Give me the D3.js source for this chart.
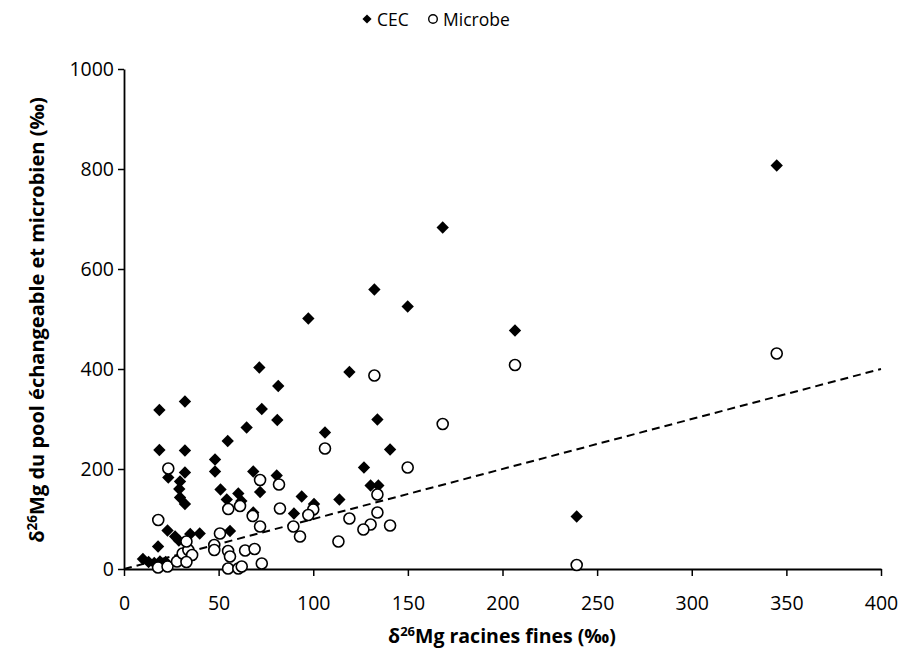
<!DOCTYPE html>
<html><head><meta charset="utf-8">
<script src="https://cdn.jsdelivr.net/npm/d3@7"></script>
<style>body{margin:0;background:#fff}svg{display:block;font-family:"Open Sans",sans-serif}</style>
</head><body>
<svg id="c" width="904" height="659"></svg>
<script>
const cecX = [10,13,16,19,22,18,23,27,29,35,40,
  18.7,32.2,18.7,32.2,23.4,32.2,29.6,29.2,29.6,32.2,
  48.1,48.1,54.8,64.8,71.5,81.5,72.8,81,68.3,80.7,
  51,54.3,60.4,62,71.9,68.3,56,
  97.4,119.1,132.3,149.9,168.4,133.9,106.2,140.6,126.8,130.3,134.4,93.9,113.8,100.4,89.8,
  206.6,239.2,344.9];
const cecY = [20,14,12,15,14,45,77,65,57,70,71,
  318,335,238,237,183,193,175,160,143,130,
  219,195,256,283,403,366,320,298,195,187,
  159,139,151,136,154,113,76,
  501,394,559,525,683,299,273,239,203,167,167,145,139,130,111,
  477,105,807];
const micX = [18.1,23.4,18,23,28,31,34,36,33,33,
  50.7,47.7,47.7,55,56,64,69,55,60.4,62.2,
  68,71.9,82.4,89.5,93,72.8,55.1,61.3,71.9,81.9,
  132.3,168.4,106.2,149.9,133.9,100,97.4,119.1,133.9,130.3,126.5,140.6,113.3,
  206.6,239.2,344.9];
const micY = [98,201,3,5,15,31,38,28,14,55,
  71,48,38,36,25,37,40,1,1,5,
  106,85,121,85,65,11,120,126,178,169,
  387,290,241,203,149,119,108,101,113,89,79,87,55,
  408,8,431];
const lineX = [0,400];
const lineY = [0,400];
const xTicks = [0,50,100,150,200,250,300,350,400];
const yTicks = [0,200,400,600,800,1000];

const svg = d3.select("#c");
const x = d3.scaleLinear().domain([0,400]).range([124,881]);
const y = d3.scaleLinear().domain([0,1000]).range([569,69]);

const gx = svg.append("g").attr("transform","translate(0,569)")
  .call(d3.axisBottom(x).tickValues(xTicks).tickFormat(d3.format("d")).tickSize(7).tickPadding(20).tickSizeOuter(0));
const gy = svg.append("g").attr("transform","translate(124,0)")
  .call(d3.axisLeft(y).tickValues(yTicks).tickFormat(d3.format("d")).tickSize(6).tickPadding(4).tickSizeOuter(0));
[gx,gy].forEach(g=>{
  g.select(".domain").attr("stroke","#000").attr("stroke-width",1.8);
  g.selectAll(".tick line").attr("stroke","#000").attr("stroke-width",1.5);
  g.selectAll(".tick text").attr("fill","#000").attr("font-family","Open Sans");
});
gx.selectAll(".tick text").attr("font-size",19.5);
gy.selectAll(".tick text").attr("font-size",19.5);

svg.append("path")
  .attr("d", d3.line().x((d,i)=>x(lineX[i])).y((d,i)=>y(lineY[i]))(lineX))
  .attr("fill","none").attr("stroke","#000").attr("stroke-width",2).attr("stroke-dasharray","8,5");

const diamond = d3.symbol().type(d3.symbolSquare).size(76);
svg.append("g").selectAll("path").data(cecX).join("path")
  .attr("d", diamond)
  .attr("transform",(d,i)=>`translate(${x(cecX[i])},${y(cecY[i])}) rotate(45)`)
  .attr("fill","#000");
svg.append("g").selectAll("circle").data(micX).join("circle")
  .attr("cx",(d,i)=>x(micX[i])).attr("cy",(d,i)=>y(micY[i])).attr("r",5.5)
  .attr("fill","#fff").attr("stroke","#000").attr("stroke-width",1.6);

const lg = svg.append("g");
lg.append("path").attr("d", d3.symbol().type(d3.symbolSquare).size(42))
  .attr("transform","translate(367,19) rotate(45)").attr("fill","#000");
lg.append("text").attr("x",377).attr("y",25.5).attr("font-size",17.5).text("CEC");
lg.append("circle").attr("cx",433).attr("cy",19).attr("r",4.3).attr("fill","#fff").attr("stroke","#000").attr("stroke-width",1.4);
lg.append("text").attr("x",443).attr("y",25.5).attr("font-size",17.5).text("Microbe");

const xt = svg.append("text").attr("x",502).attr("y",643).attr("text-anchor","middle")
  .attr("font-size",19.5).attr("font-weight","bold");
xt.append("tspan").text("δ");
xt.append("tspan").attr("font-size",13).attr("dy",-7).text("26");
xt.append("tspan").attr("dy",7).text("Mg racines fines (‰)");

const yt = svg.append("text").attr("transform","translate(44,320) rotate(-90)").attr("text-anchor","middle")
  .attr("font-size",20).attr("font-weight","bold");
yt.append("tspan").text("δ");
yt.append("tspan").attr("font-size",13.5).attr("dy",-7).text("26");
yt.append("tspan").attr("dy",7).text("Mg du pool échangeable et microbien (‰)");
</script>
</body></html>
